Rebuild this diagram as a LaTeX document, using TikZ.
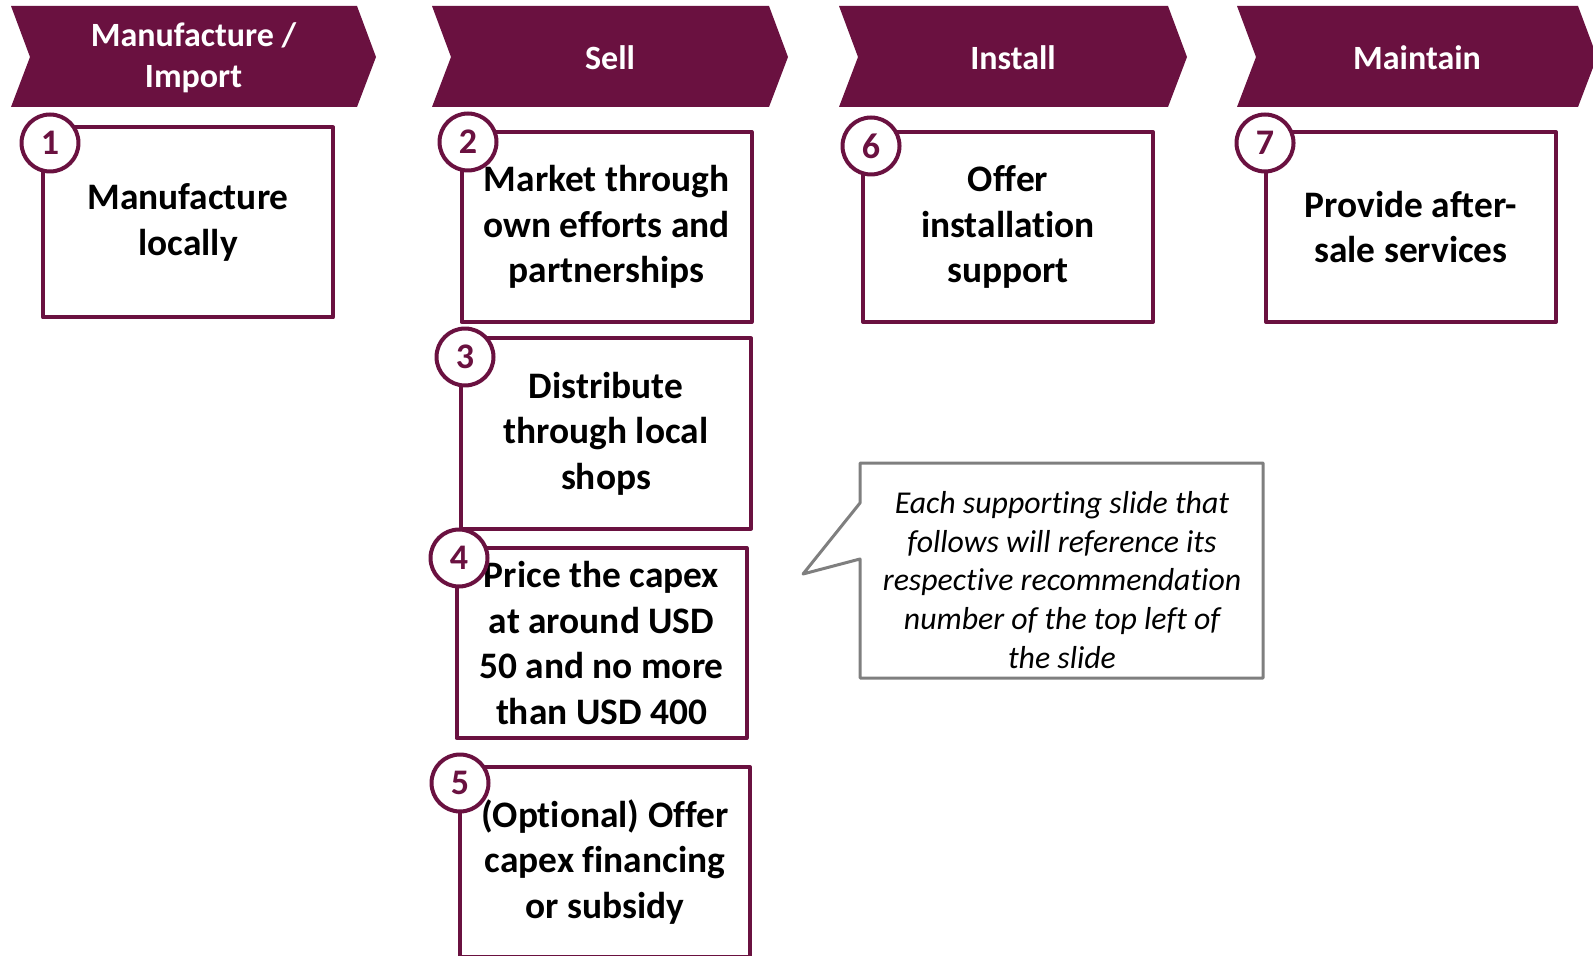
\documentclass[tikz,border=0pt]{standalone}
\usepackage{fontspec}
\setmainfont{Carlito}[Ligatures=NoCommon]
\definecolor{plum}{HTML}{6A1140}
\definecolor{notegray}{HTML}{7F7F7F}

\begin{document}
\begin{tikzpicture}[
  x=0.5pt, y=-0.5pt,
  line join=round,
  phase/.style={fill=plum, draw=none},
  phasetext/.style={text=white, align=center, font=\fontsize{17}{20.3}\selectfont\bfseries},
  rec/.style={draw=plum, line width=2pt, fill=white, minimum width=145pt, minimum height=95pt,
    inner sep=0pt, align=center, font=\fontsize{18.7}{22.8}\selectfont\bfseries},
  badge/.style={circle, draw=plum, line width=2pt, fill=white, minimum size=28.5pt,
    inner sep=0pt, text=plum, font=\fontsize{18}{20}\selectfont\bfseries},
  note/.style={align=center, font=\fontsize{15.9}{19.3}\selectfont\itshape}
]
\useasboundingbox (0,0) rectangle (1593,956);

% phase chevrons
\foreach \l/\r/\name/\txt in {11/357/h1/{Manufacture /\\Import}, 432/769/h2/Sell,
    839/1168/h3/Install, 1237/1578/h4/Maintain}{
  \fill[phase] (\l,6) -- (\r,6) -- (\r+19,57) -- (\r,107) -- (\l,107) -- (\l+19,57) -- cycle;
  \node[phasetext] (\name) at ({(\l+19+\r)/2},58) {\txt};
}

% recommendations
\node[rec] (b1) at (188,222.5) {Manufacture\\locally};
\node[rec] (b2) at (606.5,227) {Market through\\own efforts and\\partnerships};
\node[rec] (b3) at (606,433.5) {Distribute\\through local\\shops};
\node[rec] (b4) at (601.5,643) {Price the capex\\at around USD\\50 and no more\\than USD 400};
\node[rec] (b5) at (605,862) {(Optional) Offer\\capex financing\\or subsidy};
\node[rec] (b6) at (1008,227) {Offer\\installation\\support};
\node[rec] (b7) at (1411,227) {Provide after-\\sale services};

% numbers
\node[badge] (n1) at (50,143) {1};
\node[badge] (n2) at (468,142) {2};
\node[badge] (n3) at (465,357) {3};
\node[badge] (n4) at (459,558) {4};
\node[badge] (n5) at (460,783) {5};
\node[badge] (n6) at (871,146) {6};
\node[badge] (n7) at (1265,143) {7};

% callout
\coordinate (tip) at (803,574);
\draw[notegray, line width=1.5pt] (860,463) -- (1263,463) -- (1263,678) -- (860,678)
  -- (860,559) -- (tip) -- (860,503) -- cycle;
\node[note] (remark) at (1062,580) {Each supporting slide that\\follows will reference its\\respective recommendation\\number of the top left of\\the slide};
\end{tikzpicture}
\end{document}
